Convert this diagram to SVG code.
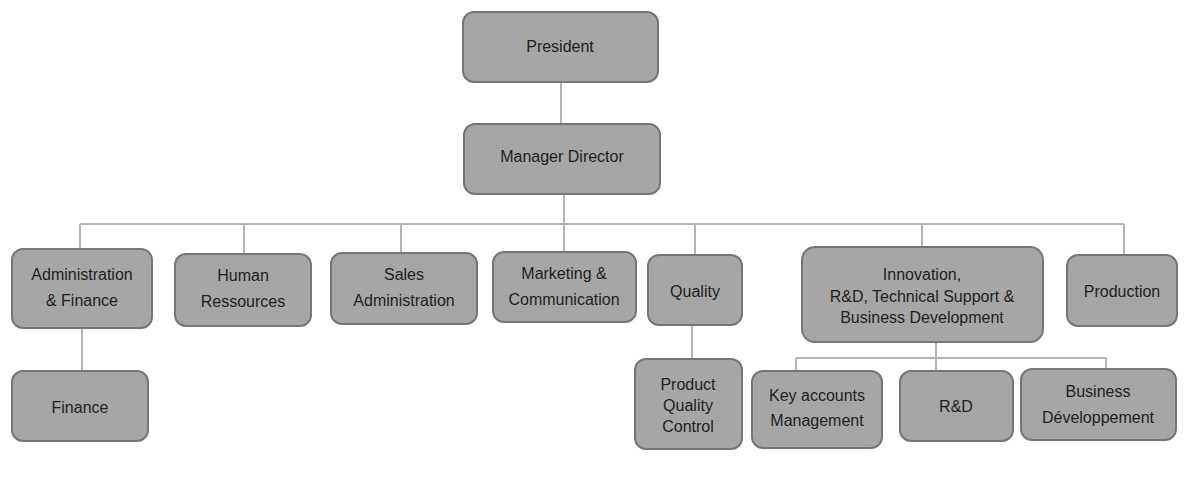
<svg xmlns="http://www.w3.org/2000/svg" width="1200" height="481" viewBox="0 0 1200 481">
<style>
.box{fill:#a6a6a6;stroke:#767676;stroke-width:2}
.t{font-family:"Liberation Sans",Arial,sans-serif;font-size:16px;fill:#1e1e1e;text-anchor:middle}
.c{stroke:#b3b3b3;stroke-width:2;fill:none}
</style>
<rect width="1200" height="481" fill="#ffffff"/>
<g id="connectors">
<path class="c" d="M561 82V124"/>
<path class="c" d="M564 194V252"/>
<path class="c" d="M80 224H1124"/>
<path class="c" d="M80 224V249"/>
<path class="c" d="M244 224V254"/>
<path class="c" d="M401 224V253"/>
<path class="c" d="M695 224V255"/>
<path class="c" d="M922 224V247"/>
<path class="c" d="M1124 224V255"/>
<path class="c" d="M82 328V371"/>
<path class="c" d="M692 325V359"/>
<path class="c" d="M936 342V371"/>
<path class="c" d="M796 358H1106"/>
<path class="c" d="M796 358V371"/>
<path class="c" d="M1106 358V369"/>
</g>
<g id="president"><rect class="box" x="463" y="12" width="195" height="70" rx="11"/><text class="t" x="560" y="52">President</text></g>
<g id="manager-director"><rect class="box" x="464" y="124" width="196" height="70" rx="11"/><text class="t" x="562" y="162">Manager Director</text></g>
<g id="admin-finance"><rect class="box" x="12" y="249" width="140" height="79" rx="11"/><text class="t" x="82" y="280">Administration</text><text class="t" x="82" y="306">&amp; Finance</text></g>
<g id="human-resources"><rect class="box" x="175" y="254" width="136" height="72" rx="11"/><text class="t" x="243" y="281">Human</text><text class="t" x="243" y="307">Ressources</text></g>
<g id="sales-admin"><rect class="box" x="331" y="253" width="146" height="71" rx="11"/><text class="t" x="404" y="280">Sales</text><text class="t" x="404" y="306">Administration</text></g>
<g id="marketing"><rect class="box" x="493" y="252" width="143" height="70" rx="11"/><text class="t" x="564" y="279">Marketing &amp;</text><text class="t" x="564" y="305">Communication</text></g>
<g id="quality"><rect class="box" x="648" y="255" width="94" height="70" rx="11"/><text class="t" x="695" y="297">Quality</text></g>
<g id="innovation"><rect class="box" x="802" y="247" width="241" height="95" rx="13"/><text class="t" x="922" y="280">Innovation,</text><text class="t" x="922" y="302">R&amp;D, Technical Support &amp;</text><text class="t" x="922" y="323">Business Development</text></g>
<g id="production"><rect class="box" x="1067" y="255" width="110" height="71" rx="11"/><text class="t" x="1122" y="297">Production</text></g>
<g id="finance"><rect class="box" x="12" y="371" width="136" height="70" rx="11"/><text class="t" x="80" y="413">Finance</text></g>
<g id="product-quality-control"><rect class="box" x="635" y="359" width="107" height="90" rx="11"/><text class="t" x="688" y="390">Product</text><text class="t" x="688" y="411">Quality</text><text class="t" x="688" y="432">Control</text></g>
<g id="key-accounts"><rect class="box" x="752" y="371" width="130" height="77" rx="11"/><text class="t" x="817" y="401">Key accounts</text><text class="t" x="817" y="426">Management</text></g>
<g id="rnd"><rect class="box" x="900" y="371" width="113" height="70" rx="11"/><text class="t" x="956" y="412">R&amp;D</text></g>
<g id="business-dev"><rect class="box" x="1021" y="369" width="155" height="71" rx="11"/><text class="t" x="1098" y="397">Business</text><text class="t" x="1098" y="423">Développement</text></g>
</svg>
